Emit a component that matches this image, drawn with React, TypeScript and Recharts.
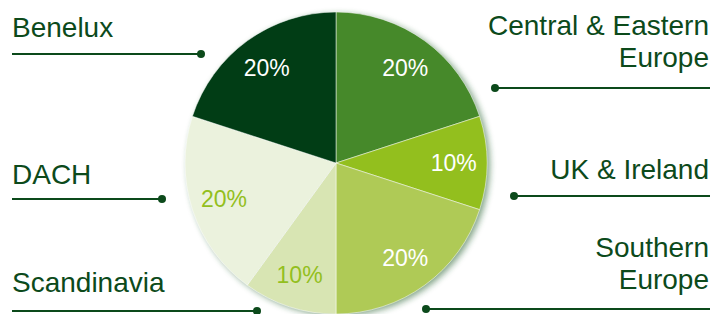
import React from "react";
import { PieChart, Pie, Cell, Customized } from "recharts";

const regions = ["Central & Eastern Europe", "UK & Ireland", "Southern Europe", "Scandinavia", "DACH", "Benelux"];
const shares = [20, 10, 20, 10, 20, 20];
const sliceColors = ["#46892a", "#93bf1e", "#afca56", "#d8e5b3", "#ebf2dd", "#013d15"];
const labelColors = ["#ffffff", "#ffffff", "#ffffff", "#93bf1e", "#93bf1e", "#ffffff"];

// callout layout: text lines, anchor side, first baseline, line y, dot x
const callouts = [
  { lines: ["Central & Eastern", "Europe"], side: "right", baseY: 35, lineY: 88, dotX: 495 },
  { lines: ["UK & Ireland"], side: "right", baseY: 179, lineY: 196, dotX: 514 },
  { lines: ["Southern", "Europe"], side: "right", baseY: 257, lineY: 309, dotX: 426 },
  { lines: ["Scandinavia"], side: "left", baseY: 292, lineY: 311, dotX: 257 },
  { lines: ["DACH"], side: "left", baseY: 184, lineY: 199, dotX: 162 },
  { lines: ["Benelux"], side: "left", baseY: 37, lineY: 54, dotX: 201 },
];

const data = regions.map((name, i) => ({ name, value: shares[i] }));

const FONT = "'Liberation Sans', Arial, sans-serif";
const DARK = "#0c4a1b";
const RAD = Math.PI / 180;
const CX = 336;
const CY = 163;
const R = 151;

const renderPct = (props: any) => {
  const { cx, cy, midAngle, outerRadius, index, value } = props;
  const r = outerRadius * 0.78;
  const x = cx + r * Math.cos(-midAngle * RAD);
  const y = cy + r * Math.sin(-midAngle * RAD);
  return (
    <text x={x} y={y} fill={labelColors[index]} textAnchor="middle" dominantBaseline="central"
      fontSize={23} fontFamily={FONT}>
      {value}%
    </text>
  );
};

const Shadow = () => (
  <g>
    <defs>
      <filter id="pieBlur" x="-20%" y="-20%" width="140%" height="140%">
        <feGaussianBlur stdDeviation="3" />
      </filter>
    </defs>
    <circle cx={CX + 3} cy={CY + 2} r={R} fill="#1f5a28" opacity={0.55} filter="url(#pieBlur)" />
  </g>
);

const Callouts = () => (
  <g>
    {callouts.map((c, i) => {
      const right = c.side === "right";
      const x1 = right ? c.dotX : 12;
      const x2 = right ? 710 : c.dotX;
      return (
        <g key={i}>
          {c.lines.map((t, j) => (
            <text key={j} x={right ? 709 : 12} y={c.baseY + j * 32}
              textAnchor={right ? "end" : "start"} fill={DARK} fontSize={28} fontFamily={FONT}>
              {t}
            </text>
          ))}
          <line x1={x1} x2={x2} y1={c.lineY} y2={c.lineY} stroke={DARK} strokeWidth={2} />
          <circle cx={c.dotX} cy={c.lineY} r={4} fill={DARK} />
        </g>
      );
    })}
  </g>
);

export default function App() {
  return (
    <div style={{ position: "absolute", left: 0, top: 0, width: 727, height: 314, background: "#fff" }}>
      <PieChart width={727} height={314} margin={{ top: 0, right: 0, bottom: 0, left: 0 }}>
        <Customized component={Shadow} />
        <Pie
          data={data}
          dataKey="value"
          nameKey="name"
          cx={CX}
          cy={CY}
          outerRadius={R}
          startAngle={90}
          endAngle={-270}
          stroke="#ffffff"
          strokeWidth={0.5}
          label={renderPct}
          labelLine={false}
          isAnimationActive={false}
        >
          {data.map((d, i) => (
            <Cell key={d.name} fill={sliceColors[i]} />
          ))}
        </Pie>
        <Customized component={Callouts} />
      </PieChart>
    </div>
  );
}
